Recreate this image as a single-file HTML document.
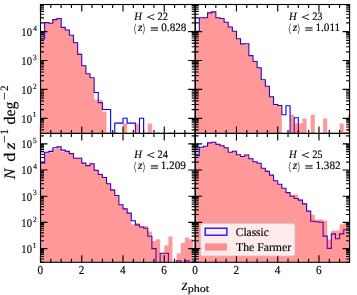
<!DOCTYPE html><html><head><meta charset="utf-8"><style>html,body{margin:0;padding:0;background:#fff;}svg{display:block;will-change:transform;}text{font-family:"Liberation Serif",serif;text-rendering:geometricPrecision;}</style></head><body>
<svg width="357" height="295" viewBox="0 0 357 295">
<rect width="100%" height="100%" fill="#fff"/>
<defs>
<clipPath id="cTL"><rect x="40.5" y="4.5" width="154.7" height="128.9"/></clipPath>
<clipPath id="cTR"><rect x="195.2" y="4.5" width="154.4" height="128.9"/></clipPath>
<clipPath id="cBL"><rect x="40.5" y="133.4" width="154.7" height="128.9"/></clipPath>
<clipPath id="cBR"><rect x="195.2" y="133.4" width="154.4" height="128.9"/></clipPath>
</defs>
<g clip-path="url(#cTL)">
<path d="M40.5 136.4 L40.5 39 L44.63 39 L44.63 22.6 L48.75 22.6 L48.75 23.2 L52.88 23.2 L52.88 19.6 L57 19.6 L57 18.5 L61.13 18.5 L61.13 27.4 L65.25 27.4 L65.25 30 L69.38 30 L69.38 35.3 L73.5 35.3 L73.5 42.8 L77.63 42.8 L77.63 54.5 L81.75 54.5 L81.75 65.8 L85.88 65.8 L85.88 73.8 L90 73.8 L90 77.8 L94.13 77.8 L94.13 92.5 L98.25 92.5 L98.25 102.6 L102.38 102.6 L102.38 109.5 L106.51 109.5 L106.51 109.5 L110.63 109.5 L110.63 136.4 L114.76 136.4 L114.76 123.1 L118.88 123.1 L118.88 123.1 L123.01 123.1 L123.01 118.2 L127.13 118.2 L127.13 123.1 L131.26 123.1 L131.26 123.1 L135.38 123.1 L135.38 136.4 L139.51 136.4 L139.51 118.2 L143.63 118.2 L143.63 136.4 L147.76 136.4 L147.76 136.4 L151.88 136.4 L151.88 136.4 L156.01 136.4 L156.01 136.4 L160.13 136.4 L160.13 136.4 L164.26 136.4 L164.26 136.4 L168.39 136.4 L168.39 136.4 L172.51 136.4 L172.51 136.4 L176.64 136.4 L176.64 136.4 L180.76 136.4 L180.76 136.4 L184.89 136.4 L184.89 136.4 L189.01 136.4 L189.01 136.4 L193.14 136.4 L193.14 136.4 L197.26 136.4 L197.26 136.4" fill="none" stroke="#0000ff" stroke-width="1.1" stroke-linejoin="miter"/>
<path d="M40.5 136.4 L40.5 38.65 L44.63 38.65 L44.63 22.25 L48.75 22.25 L48.75 22.85 L52.88 22.85 L52.88 19.25 L57 19.25 L57 18.15 L61.13 18.15 L61.13 27.05 L65.25 27.05 L65.25 29.65 L69.38 29.65 L69.38 34.95 L73.5 34.95 L73.5 42.45 L77.63 42.45 L77.63 52.5 L81.75 52.5 L81.75 65.45 L85.88 65.45 L85.88 73.45 L90 73.45 L90 78.6 L94.13 78.6 L94.13 99.5 L98.25 99.5 L98.25 100 L102.38 100 L102.38 111.6 L106.51 111.6 L106.51 132.5 L110.63 132.5 L110.63 132.5 L114.76 132.5 L114.76 132.5 L118.88 132.5 L118.88 136.4 L123.01 136.4 L123.01 123.5 L127.13 123.5 L127.13 136.4 L131.26 136.4 L131.26 136.4 L135.38 136.4 L135.38 123.4 L139.51 123.4 L139.51 136.4 L143.63 136.4 L143.63 132.5 L147.76 132.5 L147.76 123.4 L151.88 123.4 L151.88 136.4 L156.01 136.4 L156.01 132.3 L160.13 132.3 L160.13 136.4 L164.26 136.4 L164.26 136.4 L168.39 136.4 L168.39 132.3 L172.51 132.3 L172.51 136.4 L176.64 136.4 L176.64 136.4 L180.76 136.4 L180.76 136.4 L184.89 136.4 L184.89 132.5 L189.01 132.5 L189.01 136.4 L193.14 136.4 L193.14 136.4 L197.26 136.4 L197.26 136.4 Z" fill="#ff0000" fill-opacity="0.4" stroke="none"/>
</g>
<g clip-path="url(#cTR)">
<path d="M195.2 136.4 L195.2 31.3 L199.33 31.3 L199.33 17.7 L203.45 17.7 L203.45 17.7 L207.58 17.7 L207.58 12.9 L211.7 12.9 L211.7 11.9 L215.83 11.9 L215.83 17.7 L219.95 17.7 L219.95 18.5 L224.08 18.5 L224.08 22.3 L228.2 22.3 L228.2 27 L232.33 27 L232.33 31.3 L236.45 31.3 L236.45 38.8 L240.58 38.8 L240.58 43.9 L244.7 43.9 L244.7 43.7 L248.83 43.7 L248.83 55.6 L252.95 55.6 L252.95 61.5 L257.08 61.5 L257.08 67.8 L261.21 67.8 L261.21 79.8 L265.33 79.8 L265.33 86.3 L269.46 86.3 L269.46 96.8 L273.58 96.8 L273.58 104.5 L277.71 104.5 L277.71 105.5 L281.83 105.5 L281.83 114.7 L285.96 114.7 L285.96 105.8 L290.08 105.8 L290.08 136.4 L294.21 136.4 L294.21 117.8 L298.33 117.8 L298.33 136.4 L302.46 136.4 L302.46 136.4 L306.58 136.4 L306.58 136.4 L310.71 136.4 L310.71 136.4 L314.83 136.4 L314.83 136.4 L318.96 136.4 L318.96 136.4 L323.09 136.4 L323.09 136.4 L327.21 136.4 L327.21 136.4 L331.34 136.4 L331.34 136.4 L335.46 136.4 L335.46 136.4 L339.59 136.4 L339.59 136.4 L343.71 136.4 L343.71 136.4 L347.84 136.4 L347.84 136.4 L351.96 136.4 L351.96 136.4" fill="none" stroke="#0000ff" stroke-width="1.1" stroke-linejoin="miter"/>
<path d="M195.2 136.4 L195.2 32.3 L199.33 32.3 L199.33 17.35 L203.45 17.35 L203.45 17.35 L207.58 17.35 L207.58 12.55 L211.7 12.55 L211.7 11.55 L215.83 11.55 L215.83 17.35 L219.95 17.35 L219.95 18.15 L224.08 18.15 L224.08 21.95 L228.2 21.95 L228.2 26.65 L232.33 26.65 L232.33 30.95 L236.45 30.95 L236.45 38.45 L240.58 38.45 L240.58 43.55 L244.7 43.55 L244.7 44.5 L248.83 44.5 L248.83 55.25 L252.95 55.25 L252.95 60.8 L257.08 60.8 L257.08 67.45 L261.21 67.45 L261.21 80.5 L265.33 80.5 L265.33 85.95 L269.46 85.95 L269.46 96.45 L273.58 96.45 L273.58 105.2 L277.71 105.2 L277.71 105.15 L281.83 105.15 L281.83 136.4 L285.96 136.4 L285.96 136.4 L290.08 136.4 L290.08 114.7 L294.21 114.7 L294.21 123.3 L298.33 123.3 L298.33 123.3 L302.46 123.3 L302.46 118.4 L306.58 118.4 L306.58 136.4 L310.71 136.4 L310.71 114.7 L314.83 114.7 L314.83 136.4 L318.96 136.4 L318.96 136.4 L323.09 136.4 L323.09 118.4 L327.21 118.4 L327.21 136.4 L331.34 136.4 L331.34 136.4 L335.46 136.4 L335.46 136.4 L339.59 136.4 L339.59 123.4 L343.71 123.4 L343.71 131.9 L347.84 131.9 L347.84 114.5 L351.96 114.5 L351.96 136.4 Z" fill="#ff0000" fill-opacity="0.4" stroke="none"/>
</g>
<g clip-path="url(#cBL)">
<path d="M40.5 265.3 L40.5 163.2 L44.63 163.2 L44.63 152.3 L48.75 152.3 L48.75 151.4 L52.88 151.4 L52.88 147.7 L57 147.7 L57 146.7 L61.13 146.7 L61.13 150.1 L65.25 150.1 L65.25 151.4 L69.38 151.4 L69.38 153.6 L73.5 153.6 L73.5 158.2 L77.63 158.2 L77.63 158.2 L81.75 158.2 L81.75 163.1 L85.88 163.1 L85.88 165.6 L90 165.6 L90 163.8 L94.13 163.8 L94.13 170.4 L98.25 170.4 L98.25 174.5 L102.38 174.5 L102.38 177.5 L106.51 177.5 L106.51 183.8 L110.63 183.8 L110.63 190.1 L114.76 190.1 L114.76 195.5 L118.88 195.5 L118.88 204.7 L123.01 204.7 L123.01 208.9 L127.13 208.9 L127.13 213.1 L131.26 213.1 L131.26 220.8 L135.38 220.8 L135.38 224.9 L139.51 224.9 L139.51 227 L143.63 227 L143.63 228.3 L147.76 228.3 L147.76 236.3 L151.88 236.3 L151.88 248.6 L156.01 248.6 L156.01 265.3 L160.13 265.3 L160.13 253.3 L164.26 253.3 L164.26 253.3 L168.39 253.3 L168.39 265.3 L172.51 265.3 L172.51 265.3 L176.64 265.3 L176.64 260.8 L180.76 260.8 L180.76 265.3 L184.89 265.3 L184.89 260.8 L189.01 260.8 L189.01 265.3 L193.14 265.3 L193.14 260.8 L197.26 260.8 L197.26 265.3" fill="none" stroke="#0000ff" stroke-width="1.1" stroke-linejoin="miter"/>
<path d="M40.5 265.3 L40.5 164.2 L44.63 164.2 L44.63 153.1 L48.75 153.1 L48.75 152.3 L52.88 152.3 L52.88 149 L57 149 L57 146.35 L61.13 146.35 L61.13 151.4 L65.25 151.4 L65.25 151.05 L69.38 151.05 L69.38 153.25 L73.5 153.25 L73.5 157.85 L77.63 157.85 L77.63 157.85 L81.75 157.85 L81.75 162.75 L85.88 162.75 L85.88 165.25 L90 165.25 L90 163.45 L94.13 163.45 L94.13 170.05 L98.25 170.05 L98.25 174.15 L102.38 174.15 L102.38 177.15 L106.51 177.15 L106.51 183.45 L110.63 183.45 L110.63 188.9 L114.76 188.9 L114.76 195.15 L118.88 195.15 L118.88 204.35 L123.01 204.35 L123.01 208.55 L127.13 208.55 L127.13 212.75 L131.26 212.75 L131.26 224.2 L135.38 224.2 L135.38 223.1 L139.51 223.1 L139.51 225.9 L143.63 225.9 L143.63 225.9 L147.76 225.9 L147.76 231.4 L151.88 231.4 L151.88 241 L156.01 241 L156.01 239.2 L160.13 239.2 L160.13 252.95 L164.26 252.95 L164.26 245.5 L168.39 245.5 L168.39 236.4 L172.51 236.4 L172.51 265.3 L176.64 265.3 L176.64 253.5 L180.76 253.5 L180.76 242.7 L184.89 242.7 L184.89 237.4 L189.01 237.4 L189.01 239.3 L193.14 239.3 L193.14 265.3 L197.26 265.3 L197.26 265.3 Z" fill="#ff0000" fill-opacity="0.4" stroke="none"/>
</g>
<g clip-path="url(#cBR)">
<path d="M195.2 265.3 L195.2 155.6 L199.33 155.6 L199.33 147.3 L203.45 147.3 L203.45 146.3 L207.58 146.3 L207.58 142.9 L211.7 142.9 L211.7 142.2 L215.83 142.2 L215.83 144.4 L219.95 144.4 L219.95 145.7 L224.08 145.7 L224.08 147.7 L228.2 147.7 L228.2 152.3 L232.33 152.3 L232.33 151.2 L236.45 151.2 L236.45 154.7 L240.58 154.7 L240.58 156.5 L244.7 156.5 L244.7 155 L248.83 155 L248.83 158.8 L252.95 158.8 L252.95 161.8 L257.08 161.8 L257.08 163.2 L261.21 163.2 L261.21 168.3 L265.33 168.3 L265.33 171.4 L269.46 171.4 L269.46 175.1 L273.58 175.1 L273.58 180.8 L277.71 180.8 L277.71 184.3 L281.83 184.3 L281.83 188.3 L285.96 188.3 L285.96 192.6 L290.08 192.6 L290.08 196.2 L294.21 196.2 L294.21 198.5 L298.33 198.5 L298.33 200.1 L302.46 200.1 L302.46 203.9 L306.58 203.9 L306.58 211.1 L310.71 211.1 L310.71 221.2 L314.83 221.2 L314.83 221.8 L318.96 221.8 L318.96 222.2 L323.09 222.2 L323.09 236.1 L327.21 236.1 L327.21 248.4 L331.34 248.4 L331.34 233.9 L335.46 233.9 L335.46 238.7 L339.59 238.7 L339.59 233.9 L343.71 233.9 L343.71 229.7 L347.84 229.7 L347.84 229.7 L351.96 229.7 L351.96 265.3" fill="none" stroke="#0000ff" stroke-width="1.1" stroke-linejoin="miter"/>
<path d="M195.2 265.3 L195.2 156.5 L199.33 156.5 L199.33 148 L203.45 148 L203.45 145.95 L207.58 145.95 L207.58 142.55 L211.7 142.55 L211.7 141.85 L215.83 141.85 L215.83 144.05 L219.95 144.05 L219.95 145.35 L224.08 145.35 L224.08 147.35 L228.2 147.35 L228.2 151.95 L232.33 151.95 L232.33 150.85 L236.45 150.85 L236.45 154.35 L240.58 154.35 L240.58 156.15 L244.7 156.15 L244.7 154.65 L248.83 154.65 L248.83 158.45 L252.95 158.45 L252.95 161.45 L257.08 161.45 L257.08 162.85 L261.21 162.85 L261.21 167.95 L265.33 167.95 L265.33 170.6 L269.46 170.6 L269.46 174.75 L273.58 174.75 L273.58 180.45 L277.71 180.45 L277.71 183.95 L281.83 183.95 L281.83 187.95 L285.96 187.95 L285.96 192.25 L290.08 192.25 L290.08 195.1 L294.21 195.1 L294.21 194.6 L298.33 194.6 L298.33 199.75 L302.46 199.75 L302.46 203.55 L306.58 203.55 L306.58 210.75 L310.71 210.75 L310.71 214.8 L314.83 214.8 L314.83 219.7 L318.96 219.7 L318.96 219.5 L323.09 219.5 L323.09 220.6 L327.21 220.6 L327.21 239.4 L331.34 239.4 L331.34 230.8 L335.46 230.8 L335.46 230.6 L339.59 230.6 L339.59 224.2 L343.71 224.2 L343.71 223.3 L347.84 223.3 L347.84 223.3 L351.96 223.3 L351.96 265.3 Z" fill="#ff0000" fill-opacity="0.4" stroke="none"/>
</g>
<path d="M40.5 118.3h7.0M195.2 118.3h-7.0M40.5 89.4h7.0M195.2 89.4h-7.0M40.5 60.5h7.0M195.2 60.5h-7.0M40.5 31.6h7.0M195.2 31.6h-7.0M40.5 129.8h3.5M195.2 129.8h-3.5M40.5 127h3.5M195.2 127h-3.5M40.5 124.71h3.5M195.2 124.71h-3.5M40.5 122.78h3.5M195.2 122.78h-3.5M40.5 121.1h3.5M195.2 121.1h-3.5M40.5 119.62h3.5M195.2 119.62h-3.5M40.5 109.6h3.5M195.2 109.6h-3.5M40.5 104.51h3.5M195.2 104.51h-3.5M40.5 100.9h3.5M195.2 100.9h-3.5M40.5 98.1h3.5M195.2 98.1h-3.5M40.5 95.81h3.5M195.2 95.81h-3.5M40.5 93.88h3.5M195.2 93.88h-3.5M40.5 92.2h3.5M195.2 92.2h-3.5M40.5 90.72h3.5M195.2 90.72h-3.5M40.5 80.7h3.5M195.2 80.7h-3.5M40.5 75.61h3.5M195.2 75.61h-3.5M40.5 72h3.5M195.2 72h-3.5M40.5 69.2h3.5M195.2 69.2h-3.5M40.5 66.91h3.5M195.2 66.91h-3.5M40.5 64.98h3.5M195.2 64.98h-3.5M40.5 63.3h3.5M195.2 63.3h-3.5M40.5 61.82h3.5M195.2 61.82h-3.5M40.5 51.8h3.5M195.2 51.8h-3.5M40.5 46.71h3.5M195.2 46.71h-3.5M40.5 43.1h3.5M195.2 43.1h-3.5M40.5 40.3h3.5M195.2 40.3h-3.5M40.5 38.01h3.5M195.2 38.01h-3.5M40.5 36.08h3.5M195.2 36.08h-3.5M40.5 34.4h3.5M195.2 34.4h-3.5M40.5 32.92h3.5M195.2 32.92h-3.5M40.5 22.9h3.5M195.2 22.9h-3.5M40.5 17.81h3.5M195.2 17.81h-3.5M40.5 14.2h3.5M195.2 14.2h-3.5M40.5 11.4h3.5M195.2 11.4h-3.5M40.5 9.11h3.5M195.2 9.11h-3.5M40.5 7.18h3.5M195.2 7.18h-3.5M40.5 5.5h3.5M195.2 5.5h-3.5M40.5 4.5v7.0M40.5 133.4v-7.0M50.81 4.5v3.5M50.81 133.4v-3.5M61.13 4.5v3.5M61.13 133.4v-3.5M71.44 4.5v3.5M71.44 133.4v-3.5M81.75 4.5v7.0M81.75 133.4v-7.0M92.07 4.5v3.5M92.07 133.4v-3.5M102.38 4.5v3.5M102.38 133.4v-3.5M112.69 4.5v3.5M112.69 133.4v-3.5M123.01 4.5v7.0M123.01 133.4v-7.0M133.32 4.5v3.5M133.32 133.4v-3.5M143.63 4.5v3.5M143.63 133.4v-3.5M153.95 4.5v3.5M153.95 133.4v-3.5M164.26 4.5v7.0M164.26 133.4v-7.0M174.57 4.5v3.5M174.57 133.4v-3.5M184.89 4.5v3.5M184.89 133.4v-3.5M195.2 4.5v3.5M195.2 133.4v-3.5M195.2 118.3h7.0M349.6 118.3h-7.0M195.2 89.4h7.0M349.6 89.4h-7.0M195.2 60.5h7.0M349.6 60.5h-7.0M195.2 31.6h7.0M349.6 31.6h-7.0M195.2 129.8h3.5M349.6 129.8h-3.5M195.2 127h3.5M349.6 127h-3.5M195.2 124.71h3.5M349.6 124.71h-3.5M195.2 122.78h3.5M349.6 122.78h-3.5M195.2 121.1h3.5M349.6 121.1h-3.5M195.2 119.62h3.5M349.6 119.62h-3.5M195.2 109.6h3.5M349.6 109.6h-3.5M195.2 104.51h3.5M349.6 104.51h-3.5M195.2 100.9h3.5M349.6 100.9h-3.5M195.2 98.1h3.5M349.6 98.1h-3.5M195.2 95.81h3.5M349.6 95.81h-3.5M195.2 93.88h3.5M349.6 93.88h-3.5M195.2 92.2h3.5M349.6 92.2h-3.5M195.2 90.72h3.5M349.6 90.72h-3.5M195.2 80.7h3.5M349.6 80.7h-3.5M195.2 75.61h3.5M349.6 75.61h-3.5M195.2 72h3.5M349.6 72h-3.5M195.2 69.2h3.5M349.6 69.2h-3.5M195.2 66.91h3.5M349.6 66.91h-3.5M195.2 64.98h3.5M349.6 64.98h-3.5M195.2 63.3h3.5M349.6 63.3h-3.5M195.2 61.82h3.5M349.6 61.82h-3.5M195.2 51.8h3.5M349.6 51.8h-3.5M195.2 46.71h3.5M349.6 46.71h-3.5M195.2 43.1h3.5M349.6 43.1h-3.5M195.2 40.3h3.5M349.6 40.3h-3.5M195.2 38.01h3.5M349.6 38.01h-3.5M195.2 36.08h3.5M349.6 36.08h-3.5M195.2 34.4h3.5M349.6 34.4h-3.5M195.2 32.92h3.5M349.6 32.92h-3.5M195.2 22.9h3.5M349.6 22.9h-3.5M195.2 17.81h3.5M349.6 17.81h-3.5M195.2 14.2h3.5M349.6 14.2h-3.5M195.2 11.4h3.5M349.6 11.4h-3.5M195.2 9.11h3.5M349.6 9.11h-3.5M195.2 7.18h3.5M349.6 7.18h-3.5M195.2 5.5h3.5M349.6 5.5h-3.5M195.2 4.5v7.0M195.2 133.4v-7.0M205.51 4.5v3.5M205.51 133.4v-3.5M215.83 4.5v3.5M215.83 133.4v-3.5M226.14 4.5v3.5M226.14 133.4v-3.5M236.45 4.5v7.0M236.45 133.4v-7.0M246.77 4.5v3.5M246.77 133.4v-3.5M257.08 4.5v3.5M257.08 133.4v-3.5M267.39 4.5v3.5M267.39 133.4v-3.5M277.71 4.5v7.0M277.71 133.4v-7.0M288.02 4.5v3.5M288.02 133.4v-3.5M298.33 4.5v3.5M298.33 133.4v-3.5M308.65 4.5v3.5M308.65 133.4v-3.5M318.96 4.5v7.0M318.96 133.4v-7.0M329.27 4.5v3.5M329.27 133.4v-3.5M339.59 4.5v3.5M339.59 133.4v-3.5M40.5 248.6h7.0M195.2 248.6h-7.0M40.5 222.4h7.0M195.2 222.4h-7.0M40.5 196.2h7.0M195.2 196.2h-7.0M40.5 170h7.0M195.2 170h-7.0M40.5 143.8h7.0M195.2 143.8h-7.0M40.5 262.3h3.5M195.2 262.3h-3.5M40.5 259.03h3.5M195.2 259.03h-3.5M40.5 256.49h3.5M195.2 256.49h-3.5M40.5 254.41h3.5M195.2 254.41h-3.5M40.5 252.66h3.5M195.2 252.66h-3.5M40.5 251.14h3.5M195.2 251.14h-3.5M40.5 249.8h3.5M195.2 249.8h-3.5M40.5 240.71h3.5M195.2 240.71h-3.5M40.5 236.1h3.5M195.2 236.1h-3.5M40.5 232.83h3.5M195.2 232.83h-3.5M40.5 230.29h3.5M195.2 230.29h-3.5M40.5 228.21h3.5M195.2 228.21h-3.5M40.5 226.46h3.5M195.2 226.46h-3.5M40.5 224.94h3.5M195.2 224.94h-3.5M40.5 223.6h3.5M195.2 223.6h-3.5M40.5 214.51h3.5M195.2 214.51h-3.5M40.5 209.9h3.5M195.2 209.9h-3.5M40.5 206.63h3.5M195.2 206.63h-3.5M40.5 204.09h3.5M195.2 204.09h-3.5M40.5 202.01h3.5M195.2 202.01h-3.5M40.5 200.26h3.5M195.2 200.26h-3.5M40.5 198.74h3.5M195.2 198.74h-3.5M40.5 197.4h3.5M195.2 197.4h-3.5M40.5 188.31h3.5M195.2 188.31h-3.5M40.5 183.7h3.5M195.2 183.7h-3.5M40.5 180.43h3.5M195.2 180.43h-3.5M40.5 177.89h3.5M195.2 177.89h-3.5M40.5 175.81h3.5M195.2 175.81h-3.5M40.5 174.06h3.5M195.2 174.06h-3.5M40.5 172.54h3.5M195.2 172.54h-3.5M40.5 171.2h3.5M195.2 171.2h-3.5M40.5 162.11h3.5M195.2 162.11h-3.5M40.5 157.5h3.5M195.2 157.5h-3.5M40.5 154.23h3.5M195.2 154.23h-3.5M40.5 151.69h3.5M195.2 151.69h-3.5M40.5 149.61h3.5M195.2 149.61h-3.5M40.5 147.86h3.5M195.2 147.86h-3.5M40.5 146.34h3.5M195.2 146.34h-3.5M40.5 145h3.5M195.2 145h-3.5M40.5 135.91h3.5M195.2 135.91h-3.5M40.5 133.4v7.0M40.5 262.3v-7.0M50.81 133.4v3.5M50.81 262.3v-3.5M61.13 133.4v3.5M61.13 262.3v-3.5M71.44 133.4v3.5M71.44 262.3v-3.5M81.75 133.4v7.0M81.75 262.3v-7.0M92.07 133.4v3.5M92.07 262.3v-3.5M102.38 133.4v3.5M102.38 262.3v-3.5M112.69 133.4v3.5M112.69 262.3v-3.5M123.01 133.4v7.0M123.01 262.3v-7.0M133.32 133.4v3.5M133.32 262.3v-3.5M143.63 133.4v3.5M143.63 262.3v-3.5M153.95 133.4v3.5M153.95 262.3v-3.5M164.26 133.4v7.0M164.26 262.3v-7.0M174.57 133.4v3.5M174.57 262.3v-3.5M184.89 133.4v3.5M184.89 262.3v-3.5M195.2 133.4v3.5M195.2 262.3v-3.5M195.2 248.6h7.0M349.6 248.6h-7.0M195.2 222.4h7.0M349.6 222.4h-7.0M195.2 196.2h7.0M349.6 196.2h-7.0M195.2 170h7.0M349.6 170h-7.0M195.2 143.8h7.0M349.6 143.8h-7.0M195.2 262.3h3.5M349.6 262.3h-3.5M195.2 259.03h3.5M349.6 259.03h-3.5M195.2 256.49h3.5M349.6 256.49h-3.5M195.2 254.41h3.5M349.6 254.41h-3.5M195.2 252.66h3.5M349.6 252.66h-3.5M195.2 251.14h3.5M349.6 251.14h-3.5M195.2 249.8h3.5M349.6 249.8h-3.5M195.2 240.71h3.5M349.6 240.71h-3.5M195.2 236.1h3.5M349.6 236.1h-3.5M195.2 232.83h3.5M349.6 232.83h-3.5M195.2 230.29h3.5M349.6 230.29h-3.5M195.2 228.21h3.5M349.6 228.21h-3.5M195.2 226.46h3.5M349.6 226.46h-3.5M195.2 224.94h3.5M349.6 224.94h-3.5M195.2 223.6h3.5M349.6 223.6h-3.5M195.2 214.51h3.5M349.6 214.51h-3.5M195.2 209.9h3.5M349.6 209.9h-3.5M195.2 206.63h3.5M349.6 206.63h-3.5M195.2 204.09h3.5M349.6 204.09h-3.5M195.2 202.01h3.5M349.6 202.01h-3.5M195.2 200.26h3.5M349.6 200.26h-3.5M195.2 198.74h3.5M349.6 198.74h-3.5M195.2 197.4h3.5M349.6 197.4h-3.5M195.2 188.31h3.5M349.6 188.31h-3.5M195.2 183.7h3.5M349.6 183.7h-3.5M195.2 180.43h3.5M349.6 180.43h-3.5M195.2 177.89h3.5M349.6 177.89h-3.5M195.2 175.81h3.5M349.6 175.81h-3.5M195.2 174.06h3.5M349.6 174.06h-3.5M195.2 172.54h3.5M349.6 172.54h-3.5M195.2 171.2h3.5M349.6 171.2h-3.5M195.2 162.11h3.5M349.6 162.11h-3.5M195.2 157.5h3.5M349.6 157.5h-3.5M195.2 154.23h3.5M349.6 154.23h-3.5M195.2 151.69h3.5M349.6 151.69h-3.5M195.2 149.61h3.5M349.6 149.61h-3.5M195.2 147.86h3.5M349.6 147.86h-3.5M195.2 146.34h3.5M349.6 146.34h-3.5M195.2 145h3.5M349.6 145h-3.5M195.2 135.91h3.5M349.6 135.91h-3.5M195.2 133.4v7.0M195.2 262.3v-7.0M205.51 133.4v3.5M205.51 262.3v-3.5M215.83 133.4v3.5M215.83 262.3v-3.5M226.14 133.4v3.5M226.14 262.3v-3.5M236.45 133.4v7.0M236.45 262.3v-7.0M246.77 133.4v3.5M246.77 262.3v-3.5M257.08 133.4v3.5M257.08 262.3v-3.5M267.39 133.4v3.5M267.39 262.3v-3.5M277.71 133.4v7.0M277.71 262.3v-7.0M288.02 133.4v3.5M288.02 262.3v-3.5M298.33 133.4v3.5M298.33 262.3v-3.5M308.65 133.4v3.5M308.65 262.3v-3.5M318.96 133.4v7.0M318.96 262.3v-7.0M329.27 133.4v3.5M329.27 262.3v-3.5M339.59 133.4v3.5M339.59 262.3v-3.5" stroke="#000" stroke-width="1.15" fill="none"/>
<g stroke="#000" stroke-width="1.1" fill="none">
<rect x="40.5" y="4.5" width="154.7" height="128.9"/>
<rect x="195.2" y="4.5" width="154.4" height="128.9"/>
<rect x="40.5" y="133.4" width="154.7" height="128.9"/>
<rect x="195.2" y="133.4" width="154.4" height="128.9"/>
</g>
<g fill="#000"><text transform="translate(21.37 35.9) scale(0.9 1)" font-size="11.8" style="" stroke="#000" stroke-width="0.15">10</text>
<text transform="translate(33.26 30.7) scale(0.92 1)" font-size="8" style="" stroke="#000" stroke-width="0.15">4</text>
<text transform="translate(21.37 64.8) scale(0.9 1)" font-size="11.8" style="" stroke="#000" stroke-width="0.15">10</text>
<text transform="translate(33.05 59.6) scale(0.92 1)" font-size="8" style="" stroke="#000" stroke-width="0.15">3</text>
<text transform="translate(21.37 93.7) scale(0.9 1)" font-size="11.8" style="" stroke="#000" stroke-width="0.15">10</text>
<text transform="translate(33.08 88.5) scale(0.92 1)" font-size="8" style="" stroke="#000" stroke-width="0.15">2</text>
<text transform="translate(21.37 122.6) scale(0.9 1)" font-size="11.8" style="" stroke="#000" stroke-width="0.15">10</text>
<text transform="translate(32.75 117.4) scale(0.92 1)" font-size="8" style="" stroke="#000" stroke-width="0.15">1</text>
<text transform="translate(21.37 148.1) scale(0.9 1)" font-size="11.8" style="" stroke="#000" stroke-width="0.15">10</text>
<text transform="translate(32.97 142.9) scale(0.92 1)" font-size="8" style="" stroke="#000" stroke-width="0.15">5</text>
<text transform="translate(21.37 174.3) scale(0.9 1)" font-size="11.8" style="" stroke="#000" stroke-width="0.15">10</text>
<text transform="translate(33.26 169.1) scale(0.92 1)" font-size="8" style="" stroke="#000" stroke-width="0.15">4</text>
<text transform="translate(21.37 200.5) scale(0.9 1)" font-size="11.8" style="" stroke="#000" stroke-width="0.15">10</text>
<text transform="translate(33.05 195.3) scale(0.92 1)" font-size="8" style="" stroke="#000" stroke-width="0.15">3</text>
<text transform="translate(21.37 226.7) scale(0.9 1)" font-size="11.8" style="" stroke="#000" stroke-width="0.15">10</text>
<text transform="translate(33.08 221.5) scale(0.92 1)" font-size="8" style="" stroke="#000" stroke-width="0.15">2</text>
<text transform="translate(21.37 252.9) scale(0.9 1)" font-size="11.8" style="" stroke="#000" stroke-width="0.15">10</text>
<text transform="translate(32.75 247.7) scale(0.92 1)" font-size="8" style="" stroke="#000" stroke-width="0.15">1</text>
<text transform="translate(40.4 273.9) scale(0.92 1)" font-size="12.2" style="" text-anchor="middle" stroke="#000" stroke-width="0.15">0</text>
<text transform="translate(81.65 273.9) scale(0.92 1)" font-size="12.2" style="" text-anchor="middle" stroke="#000" stroke-width="0.15">2</text>
<text transform="translate(122.91 273.9) scale(0.92 1)" font-size="12.2" style="" text-anchor="middle" stroke="#000" stroke-width="0.15">4</text>
<text transform="translate(164.16 273.9) scale(0.92 1)" font-size="12.2" style="" text-anchor="middle" stroke="#000" stroke-width="0.15">6</text>
<text transform="translate(195.1 273.9) scale(0.92 1)" font-size="12.2" style="" text-anchor="middle" stroke="#000" stroke-width="0.15">0</text>
<text transform="translate(236.35 273.9) scale(0.92 1)" font-size="12.2" style="" text-anchor="middle" stroke="#000" stroke-width="0.15">2</text>
<text transform="translate(277.61 273.9) scale(0.92 1)" font-size="12.2" style="" text-anchor="middle" stroke="#000" stroke-width="0.15">4</text>
<text transform="translate(318.86 273.9) scale(0.92 1)" font-size="12.2" style="" text-anchor="middle" stroke="#000" stroke-width="0.15">6</text>
<text transform="translate(134.31 19.7) scale(0.95 1)" font-size="11.2" style="font-style:italic;" stroke="#000" stroke-width="0.15">H</text>
<text transform="translate(146.24 20.8) scale(1.3 1)" font-size="11.8" style="" stroke="#000" stroke-width="0.15"><</text>
<text transform="translate(157.44 19.7) scale(0.93 1)" font-size="11.2" style="" stroke="#000" stroke-width="0.15">22</text>
<path d="M135.8 23.7L134.3 28.95L135.8 34.2" fill="none" stroke="#000" stroke-width="0.55"/>
<text x="138.03" y="31.2" font-size="11.2" style="font-style:italic;" stroke="#000" stroke-width="0.15" >z</text>
<path d="M143.2 23.7L144.7 28.95L143.2 34.2" fill="none" stroke="#000" stroke-width="0.55"/>
<text transform="translate(150.17 33.1) scale(1.25 1)" font-size="11.8" style="" stroke="#000" stroke-width="0.3">=</text>
<text x="161.27" y="31.2" font-size="11.2" style="" stroke="#000" stroke-width="0.15" >0.828</text>
<text transform="translate(289.01 19.7) scale(0.95 1)" font-size="11.2" style="font-style:italic;" stroke="#000" stroke-width="0.15">H</text>
<text transform="translate(300.94 20.8) scale(1.3 1)" font-size="11.8" style="" stroke="#000" stroke-width="0.15"><</text>
<text transform="translate(312.14 19.7) scale(0.93 1)" font-size="11.2" style="" stroke="#000" stroke-width="0.15">23</text>
<path d="M290.5 23.7L289 28.95L290.5 34.2" fill="none" stroke="#000" stroke-width="0.55"/>
<text x="292.73" y="31.2" font-size="11.2" style="font-style:italic;" stroke="#000" stroke-width="0.15" >z</text>
<path d="M297.9 23.7L299.4 28.95L297.9 34.2" fill="none" stroke="#000" stroke-width="0.55"/>
<text transform="translate(304.87 33.1) scale(1.25 1)" font-size="11.8" style="" stroke="#000" stroke-width="0.3">=</text>
<text x="315.42" y="31.2" font-size="11.2" style="" stroke="#000" stroke-width="0.15" >1.011</text>
<text transform="translate(134.31 157.9) scale(0.95 1)" font-size="11.2" style="font-style:italic;" stroke="#000" stroke-width="0.15">H</text>
<text transform="translate(146.24 159) scale(1.3 1)" font-size="11.8" style="" stroke="#000" stroke-width="0.15"><</text>
<text transform="translate(157.44 157.9) scale(0.93 1)" font-size="11.2" style="" stroke="#000" stroke-width="0.15">24</text>
<path d="M135.8 161.9L134.3 167.15L135.8 172.4" fill="none" stroke="#000" stroke-width="0.55"/>
<text x="138.03" y="169.4" font-size="11.2" style="font-style:italic;" stroke="#000" stroke-width="0.15" >z</text>
<path d="M143.2 161.9L144.7 167.15L143.2 172.4" fill="none" stroke="#000" stroke-width="0.55"/>
<text transform="translate(150.17 171.3) scale(1.25 1)" font-size="11.8" style="" stroke="#000" stroke-width="0.3">=</text>
<text x="160.72" y="169.4" font-size="11.2" style="" stroke="#000" stroke-width="0.15" >1.209</text>
<text transform="translate(289.01 157.9) scale(0.95 1)" font-size="11.2" style="font-style:italic;" stroke="#000" stroke-width="0.15">H</text>
<text transform="translate(300.94 159) scale(1.3 1)" font-size="11.8" style="" stroke="#000" stroke-width="0.15"><</text>
<text transform="translate(312.14 157.9) scale(0.93 1)" font-size="11.2" style="" stroke="#000" stroke-width="0.15">25</text>
<path d="M290.5 161.9L289 167.15L290.5 172.4" fill="none" stroke="#000" stroke-width="0.55"/>
<text x="292.73" y="169.4" font-size="11.2" style="font-style:italic;" stroke="#000" stroke-width="0.15" >z</text>
<path d="M297.9 161.9L299.4 167.15L297.9 172.4" fill="none" stroke="#000" stroke-width="0.55"/>
<text transform="translate(304.87 171.3) scale(1.25 1)" font-size="11.8" style="" stroke="#000" stroke-width="0.3">=</text>
<text x="315.42" y="169.4" font-size="11.2" style="" stroke="#000" stroke-width="0.15" >1.382</text>
<text x="181.48" y="290.2" font-size="16" style="font-style:italic;" stroke="#000" stroke-width="0.05" >z</text>
<text transform="translate(187.71 291.8) scale(1.15 1)" font-size="10.5" style="" stroke="#000" stroke-width="0.15">phot</text>
<text transform="translate(14.9 0) rotate(-90) translate(-179.18 0) scale(1.0 1)" font-size="16" style="font-style:italic;" stroke="#000" stroke-width="0.15">N</text>
<text transform="translate(14.9 0) rotate(-90) translate(-161.86 0) scale(1.15 1)" font-size="16" style="" stroke="#000" stroke-width="0.15">d</text>
<text transform="translate(14.9 0) rotate(-90) translate(-149.6 0) scale(1.12 1)" font-size="16" style="font-style:italic;" stroke="#000" stroke-width="0.15">z</text>
<text transform="translate(7.9 0) rotate(-90) translate(-143.13 0) scale(1.3 1)" font-size="11.2" style="" stroke="#000" stroke-width="0.15">−</text>
<text transform="translate(7.9 0) rotate(-90) translate(-134.78 0) scale(1.0 1)" font-size="11.2" style="" stroke="#000" stroke-width="0.15">1</text>
<text transform="translate(14.9 0) rotate(-90) translate(-124.58 0) scale(1.0 1)" font-size="16" style="" stroke="#000" stroke-width="0.15">deg</text>
<text transform="translate(7.9 0) rotate(-90) translate(-100.33 0) scale(1.3 1)" font-size="11.2" style="" stroke="#000" stroke-width="0.15">−</text>
<text transform="translate(7.9 0) rotate(-90) translate(-91.09 0) scale(1.0 1)" font-size="11.2" style="" stroke="#000" stroke-width="0.15">2</text>
<rect x="200.7" y="223.5" width="94.2" height="32.4" rx="2" ry="2" fill="#fff" fill-opacity="0.8" stroke="#ccc" stroke-width="0.8"/>
<rect x="205.2" y="228.2" width="21.7" height="7.0" fill="none" stroke="#0000ff" stroke-width="1.25"/>
<rect x="205.0" y="243.4" width="22.0" height="7.2" fill="#ff0000" fill-opacity="0.4"/>
<text transform="translate(235.83 235.5) scale(0.96 1)" font-size="11.9" style="" stroke="#000" stroke-width="0.15">Classic</text>
<text transform="translate(236.09 251) scale(0.985 1)" font-size="11.9" style="" stroke="#000" stroke-width="0.15">The Farmer</text></g>
</svg></body></html>
